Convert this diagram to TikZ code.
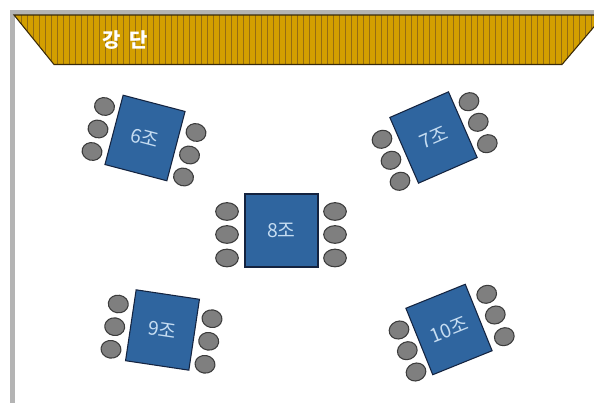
\documentclass[tikz,border=0pt]{standalone}
\usepackage{fontspec}
\newfontfamily\krfont{Noto Sans CJK KR}
\definecolor{wallgray}{HTML}{B4B4B4}
\definecolor{stagegold}{HTML}{D39F00}
\definecolor{stagestripe}{HTML}{946C12}
\definecolor{stageedge}{HTML}{3A2A08}
\definecolor{tblblue}{HTML}{2F659F}
\definecolor{tbledge}{HTML}{14233F}
\definecolor{tbltext}{HTML}{C6DDF2}
\definecolor{seatgray}{HTML}{7F7F7F}
\definecolor{seatedge}{HTML}{3C3C3C}
\tikzset{
  tablebox/.style={draw=tbledge, fill=tblblue, line width=0.9pt, inner sep=0pt,
    minimum width=1.92cm, minimum height=2.15cm, text=tbltext, font=\krfont\fontsize{16.5}{18}\selectfont},
  squarebox/.style={tablebox, minimum width=2.19cm, minimum height=2.19cm},
  seat/.style={ellipse, draw=seatedge, fill=seatgray, line width=0.9pt, inner sep=0pt,
    minimum width=0.6cm, minimum height=0.53cm},
  wideseat/.style={seat, minimum width=0.68cm, minimum height=0.53cm}
}
\usetikzlibrary{shapes.geometric}

\begin{document}
\begin{tikzpicture}[x=0.03cm, y=-0.03cm]

% Background
\clip (0,0) rectangle (594,405);
\fill[white] (0,0) rectangle (594,405);

% Walls
\fill[wallgray] (10,10) rectangle (594,15);
\fill[wallgray] (10,10) rectangle (15,403);

% Stage
\begin{scope}
\clip (14,15) -- (604,15) -- (562,64.5) -- (54,64.5) -- cycle;
\fill[stagegold] (14,15) rectangle (604,65);
\foreach \sx in {15,21,...,603}
  \draw[stagestripe, line width=0.7pt] (\sx,15) -- (\sx,65);
\end{scope}
\draw[stageedge, line width=0.9pt] (14,15) -- (604,15) -- (562,64.5) -- (54,64.5) -- cycle;
\node[text=white, font=\krfont\bfseries\fontsize{17}{19}\selectfont] (stagelabel) at (125.5,40) {강\hspace{0.45em}단};

% Table 6
\node[tablebox, rotate=-14.7] (tbl6) at (145,138) {6조};
\node[seat, rotate=-14.7] (s6a) at (104.5,106.5) {};
\node[seat, rotate=-14.7] (s6b) at (98,129) {};
\node[seat, rotate=-14.7] (s6c) at (92,151.5) {};
\node[seat, rotate=-14.7] (s6d) at (196,132.5) {};
\node[seat, rotate=-14.7] (s6e) at (189.5,155) {};
\node[seat, rotate=-14.7] (s6f) at (183.5,177) {};

% Table 7
\node[tablebox, rotate=23.6] (tbl7) at (433.5,137.5) {7조};
\node[seat, rotate=23.6] (s7a) at (469,101.7) {};
\node[seat, rotate=23.6] (s7b) at (478.3,122.3) {};
\node[seat, rotate=23.6] (s7c) at (487.3,143.7) {};
\node[seat, rotate=23.6] (s7d) at (382,139.3) {};
\node[seat, rotate=23.6] (s7e) at (391,160.3) {};
\node[seat, rotate=23.6] (s7f) at (400,181.3) {};

% Table 8
\node[squarebox] (tbl8) at (281.5,230.5) {8조};
\node[wideseat] (s8a) at (227,211.5) {};
\node[wideseat] (s8b) at (227,234.5) {};
\node[wideseat] (s8c) at (227,258) {};
\node[wideseat] (s8d) at (335,211.5) {};
\node[wideseat] (s8e) at (335,234.5) {};
\node[wideseat] (s8f) at (335,258) {};

% Table 9
\node[tablebox, rotate=-8.5] (tbl9) at (162.5,330) {9조};
\node[seat, rotate=-8.5] (s9a) at (118.3,304) {};
\node[seat, rotate=-8.5] (s9b) at (114.7,326.7) {};
\node[seat, rotate=-8.5] (s9c) at (111,349.3) {};
\node[seat, rotate=-8.5] (s9d) at (212,318.7) {};
\node[seat, rotate=-8.5] (s9e) at (208.7,341.3) {};
\node[seat, rotate=-8.5] (s9f) at (205,364.3) {};

% Table 10
\node[tablebox, rotate=22] (tbl10) at (449,329.5) {10조};
\node[seat, rotate=22] (s10a) at (486.7,294.3) {};
\node[seat, rotate=22] (s10b) at (495.3,315) {};
\node[seat, rotate=22] (s10c) at (504.3,336.7) {};
\node[seat, rotate=22] (s10d) at (399,330) {};
\node[seat, rotate=22] (s10e) at (407.3,350.7) {};
\node[seat, rotate=22] (s10f) at (416,372) {};

\end{tikzpicture}
\end{document}
